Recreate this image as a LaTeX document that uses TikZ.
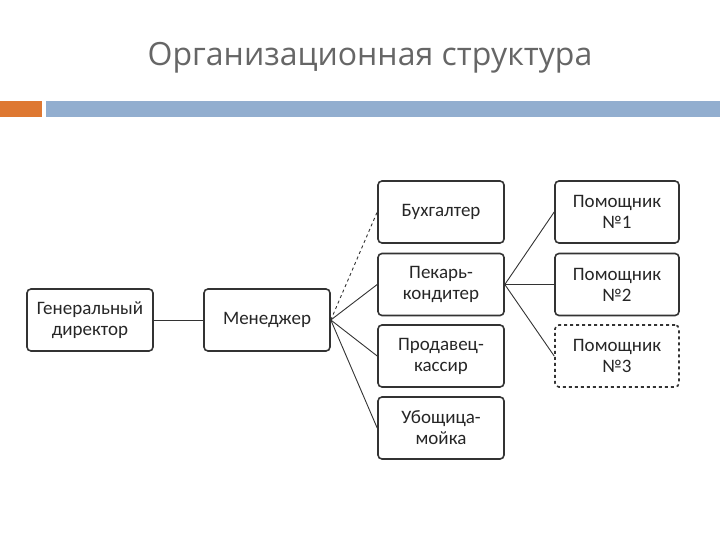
\documentclass[tikz,border=0pt]{standalone}
\usepackage{fontspec}
\setmainfont{Carlito}
\newfontfamily\titlefont{Open Sans}
\begin{document}
\begin{tikzpicture}[x=1pt,y=-1pt,
  box/.style={draw=black!80,line width=1.6pt,rounded corners=4pt,minimum width=126pt,minimum height=62pt,align=center,font=\fontsize{19}{21}\selectfont,text=black!85,inner sep=0pt},
  dbox/.style={box,dashed},
  link/.style={draw=black!80,line width=0.9pt},
  dlink/.style={link,dashed}]
\useasboundingbox (0,0) rectangle (720,540);
\node[font=\titlefont\fontsize{32}{34}\selectfont,text=black!60] (title) at (370,58) {Организационная структура};
\fill[fill={rgb,255:red,146;green,174;blue,207}] (46,101) rectangle (720,117);
\fill[fill={rgb,255:red,222;green,120;blue,50}] (0,101) rectangle (42,117);
\node[box] (gd) at (90,320) {Генеральный\\директор};
\node[box] (mg) at (267,320) {Менеджер};
\node[box] (bu) at (441,212) {Бухгалтер};
\node[box] (pk) at (441,284.5) {Пекарь-\\кондитер};
\node[box] (pr) at (441,356) {Продавец-\\кассир};
\node[box] (ub) at (441,428) {Убощица-\\мойка};
\node[box,minimum width=124pt] (p1) at (617,212) {Помощник\\№1};
\node[box,minimum width=124pt] (p2) at (617,284.5) {Помощник\\№2};
\node[dbox,minimum width=124pt] (p3) at (617,356) {Помощник\\№3};
\draw[link] (gd.east) -- (mg.west);
\draw[dlink] (mg.east) -- (bu.west);
\draw[link] (mg.east) -- (pk.west);
\draw[link] (mg.east) -- (pr.west);
\draw[link] (mg.east) -- (ub.west);
\draw[link] (pk.east) -- (p1.west);
\draw[link] (pk.east) -- (p2.west);
\draw[link] (pk.east) -- (p3.west);
\end{tikzpicture}
\end{document}
